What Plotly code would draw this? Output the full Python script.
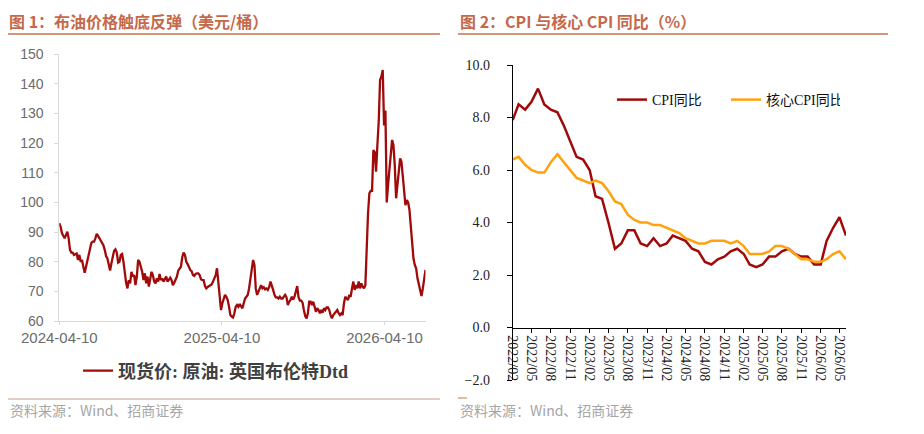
import pandas as pd
import plotly.graph_objects as go

# ---------------- Data ----------------
# Brent Dtd spot (USD/bbl), sampled every 3 days from 2024-04-10
brent_start = "2024-04-10"
brent = [
    93.0, 91.8, 89.6, 88.7, 87.9, 89.0, 90.1, 87.9, 84.0, 83.1,
    83.1, 82.3, 82.5, 82.8, 80.6, 82.3, 80.0, 80.6, 78.3, 76.3,
    78.3, 80.6, 82.3, 85.1, 86.4, 86.8, 86.8, 87.9, 89.4, 88.7,
    87.9, 87.1, 86.4, 85.6, 84.0, 81.9, 81.1, 78.9, 77.0, 79.5,
    82.3, 83.7, 84.2, 83.1, 79.7, 80.0, 82.3, 82.6, 80.0, 75.5,
    72.9, 71.0, 73.8, 72.7, 76.6, 75.0, 75.5, 72.1, 75.0, 80.6,
    80.0, 78.3, 76.6, 73.8, 76.1, 72.7, 75.0, 71.6, 73.8, 76.6,
    75.5, 73.3, 72.7, 74.4, 73.3, 75.9, 73.8, 74.4, 73.3, 74.1,
    75.0, 73.3, 73.8, 74.6, 73.8, 72.1, 72.9, 73.8, 75.0, 77.0,
    77.8, 78.3, 81.5, 83.1, 82.3,
    80.0, 79.2, 78.1, 77.2, 76.8,
    75.5, 75.2, 75.9, 76.1, 76.1, 75.5, 74.1, 73.8, 73.8, 71.8,
    71.0, 71.5, 71.8, 72.0, 72.3, 73.3, 74.4, 75.5, 77.8, 72.7,
    67.4, 63.7, 66.0, 67.6, 68.8, 68.2, 67.1, 64.8, 62.0, 61.5,
    61.2, 62.6, 64.8, 65.4, 64.8, 65.7, 64.8, 64.3, 66.0, 67.6,
    68.2, 68.8, 71.0, 74.2, 76.6, 80.6, 78.9, 71.0, 68.8, 69.9,
    71.4, 72.1, 71.0, 71.4, 70.7, 71.0, 70.5, 71.4, 73.3, 72.1,
    70.5, 68.8, 68.0, 68.0, 67.6, 68.2, 67.6, 67.6, 68.2, 68.8,
    68.0, 65.4, 66.5, 67.1, 68.2, 67.3, 68.2, 69.9, 71.8, 68.0,
    66.9, 66.9, 66.2, 63.7, 61.7, 60.9, 62.6, 66.5,
    66.5, 65.4, 66.5, 64.8, 63.1, 64.3, 63.7, 62.6, 63.7, 62.8, 64.3, 63.7,
    64.6, 64.6, 63.7, 62.0, 60.9, 62.0, 62.6, 63.1, 63.7, 62.6, 62.0, 62.6, 62.0,
    66.0, 68.2, 67.6, 67.1, 68.8, 68.2, 71.0, 73.3, 70.5, 72.1, 71.0, 73.3,
    71.0, 72.7, 71.6, 71.0, 72.1,
    85.1, 96.3,
    103.1, 103.9, 103.9, 117.7, 117.0, 110.4, 119.4, 127.3, 141.3, 142.5,
    144.7, 126.0, 131.0,
    100.0, 106.0, 111.5, 114.9, 121.1, 119.4, 112.6, 101.4, 105.9, 110.4,
    114.9, 113.8, 108.1, 104.8, 99.1, 100.8, 100.0, 97.5,
    91.8, 86.8, 81.1, 78.9, 77.8, 74.4, 72.1, 70.5, 68.4, 71.0, 75.0, 77.2,
]
brent_ticks = ["2024-04-10", "2025-04-10", "2026-04-10"]

# CPI YoY and core CPI YoY (%), monthly from 2022-02
cpi_start = "2022-02-01"
cpi = [
    7.9, 8.5, 8.3, 8.6, 9.1, 8.5, 8.3, 8.2, 7.7, 7.1,
    6.5, 6.4, 6.0, 5.0, 4.9, 4.0, 3.0, 3.2, 3.7, 3.7,
    3.2, 3.1, 3.4, 3.1, 3.2, 3.5, 3.4, 3.3, 3.0, 2.9,
    2.5, 2.4, 2.6, 2.7, 2.9, 3.0, 2.8, 2.4, 2.3, 2.4,
    2.7, 2.7, 2.9, 3.0, 2.8, 2.7, 2.7, 2.4, 2.4, 3.3,
    3.8, 4.2, 3.5,
]
core_cpi = [
    6.4, 6.5, 6.2, 6.0, 5.9, 5.9, 6.3, 6.6, 6.3, 6.0,
    5.7, 5.6, 5.5, 5.6, 5.5, 5.2, 4.8, 4.7, 4.3, 4.1,
    4.0, 4.0, 3.9, 3.9, 3.8, 3.7, 3.6, 3.4, 3.3, 3.2,
    3.2, 3.3, 3.3, 3.3, 3.2, 3.3, 3.1, 2.8, 2.8, 2.8,
    2.9, 3.1, 3.1, 3.0, 2.8, 2.6, 2.6, 2.5, 2.5, 2.6,
    2.8, 2.9, 2.6,
]

# ---------------- Derived ----------------
brent_dates = pd.date_range(brent_start, periods=len(brent), freq="3D")
cpi_dates = pd.date_range(cpi_start, periods=len(cpi), freq="MS")
cpi_tickvals = cpi_dates[::3]
cpi_ticktext = [d.strftime("%Y/%m") for d in cpi_tickvals]

# The page has an 8px body margin; size the figure so it fills the 924x434 window.
OFF = 8
W, H = 924 - OFF, 434 - OFF
def px(x):
    return (x - OFF) / W
def py(y):
    return 1 - (y - OFF) / H

TITLE_COLOR = "#C4694B"
SERIF = "Liberation Serif, Noto Sans CJK SC, serif"
SANS = "Liberation Sans, Arial, sans-serif"
CJK = "Noto Sans CJK SC, sans-serif"

fig = go.Figure()
fig.add_trace(go.Scatter(
    x=brent_dates, y=brent, mode="lines", name="现货价: 原油: 英国布伦特Dtd",
    line=dict(color="#A00A0A", width=2.3), xaxis="x", yaxis="y", legend="legend",
))
fig.add_trace(go.Scatter(
    x=cpi_dates, y=cpi, mode="lines", name="CPI同比",
    line=dict(color="#A00A0A", width=2.5), xaxis="x2", yaxis="y2", legend="legend2",
))
fig.add_trace(go.Scatter(
    x=cpi_dates, y=core_cpi, mode="lines", name="核心CPI同比",
    line=dict(color="#FFA20F", width=2.5), xaxis="x2", yaxis="y2", legend="legend2",
))

y2_dom = [py(380), py(65)]
x2_pos = y2_dom[0] + (0 - (-2)) / 12 * (y2_dom[1] - y2_dom[0])

fig.update_layout(
    width=W, height=H, margin=dict(l=0, r=0, t=0, b=0, autoexpand=False),
    paper_bgcolor="white", plot_bgcolor="white",
    showlegend=True,
    xaxis=dict(
        domain=[px(59.3), px(425.5)], anchor="y", type="date", automargin=False,
        range=[brent_dates[0], brent_dates[-1]],
        tickvals=pd.to_datetime(brent_ticks), ticktext=brent_ticks,
        showline=True, linecolor="#D9D9D9", linewidth=1,
        ticks="outside", ticklen=3, tickcolor="#D9D9D9",
        tickfont=dict(family=SANS, size=15, color="#6B6B6B"),
        showgrid=False, zeroline=False,
    ),
    yaxis=dict(
        domain=[py(321), py(54.3)], anchor="x", range=[60, 150], dtick=10,
        automargin=False,
        showline=True, linecolor="#D9D9D9", linewidth=1,
        ticks="outside", ticklen=4, tickcolor="#D9D9D9",
        tickfont=dict(family=SANS, size=14, color="#6B6B6B"),
        ticklabelstandoff=8,
        showgrid=False, zeroline=False,
    ),
    xaxis2=dict(
        domain=[px(512.7), px(846)], anchor="free", position=x2_pos, type="date",
        automargin=False,
        range=[cpi_dates[0], cpi_dates[-1]],
        tickvals=cpi_tickvals, ticktext=cpi_ticktext, tickangle=90,
        showline=True, linecolor="black", linewidth=1,
        ticks="outside", ticklen=4, tickcolor="black",
        tickfont=dict(family=SERIF, size=14, color="#222222"),
        showgrid=False, zeroline=False,
    ),
    yaxis2=dict(
        domain=y2_dom, anchor="x2", range=[-2, 10], dtick=2, tickformat=".1f",
        automargin=False,
        showline=True, linecolor="black", linewidth=1,
        ticks="outside", ticklen=5, tickcolor="black",
        tickfont=dict(family=SERIF, size=14, color="#222222"),
        ticklabelstandoff=14,
        showgrid=False, zeroline=False,
    ),
    legend=dict(
        orientation="h", x=px(78), y=py(371), xanchor="left", yanchor="middle",
        font=dict(family=SERIF, size=18, color="#404040", weight="bold"),
        bgcolor="rgba(0,0,0,0)",
    ),
    legend2=dict(
        orientation="h", x=px(612), y=py(100), xanchor="left", yanchor="middle",
        font=dict(family=SERIF, size=14, color="#111111"),
        entrywidth=69, bgcolor="rgba(0,0,0,0)",
    ),
)

shapes = [
    dict(type="line", xref="paper", yref="paper", x0=0, x1=px(440), y0=py(34), y1=py(34),
         line=dict(color="#C8724F", width=1.3)),
    dict(type="line", xref="paper", yref="paper", x0=px(458), x1=px(888), y0=py(34), y1=py(34),
         line=dict(color="#C8724F", width=1.3)),
    dict(type="line", xref="paper", yref="paper", x0=0, x1=px(440), y0=py(399), y1=py(399),
         line=dict(color="#C49A88", width=1)),
    dict(type="line", xref="paper", yref="paper", x0=px(458), x1=px(467), y0=py(398), y1=py(398),
         line=dict(color="#C8724F", width=1)),
]
fig.update_layout(shapes=shapes)

title_font = dict(family=CJK, size=16, color=TITLE_COLOR, weight="bold")
annotations = [
    dict(text="图 1：布油价格触底反弹（美元/桶）", x=0, y=1, xref="paper", yref="paper",
         xanchor="left", yanchor="top", showarrow=False, borderpad=0, font=title_font),
    dict(text="图 2：CPI 与核心 CPI 同比（%）", x=px(459), y=1, xref="paper", yref="paper",
         xanchor="left", yanchor="top", showarrow=False, borderpad=0, font=title_font),
    dict(text="资料来源：Wind、招商证券", x=0, y=py(410), xref="paper", yref="paper",
         xanchor="left", yanchor="middle", showarrow=False,
         font=dict(family=CJK, size=14, color="#A6A6A6")),
    dict(text="资料来源：Wind、招商证券", x=px(458), y=py(410), xref="paper", yref="paper",
         xanchor="left", yanchor="middle", showarrow=False,
         font=dict(family=CJK, size=14, color="#A6A6A6")),
]
fig.update_layout(annotations=annotations)

fig.write_html("out.html")
